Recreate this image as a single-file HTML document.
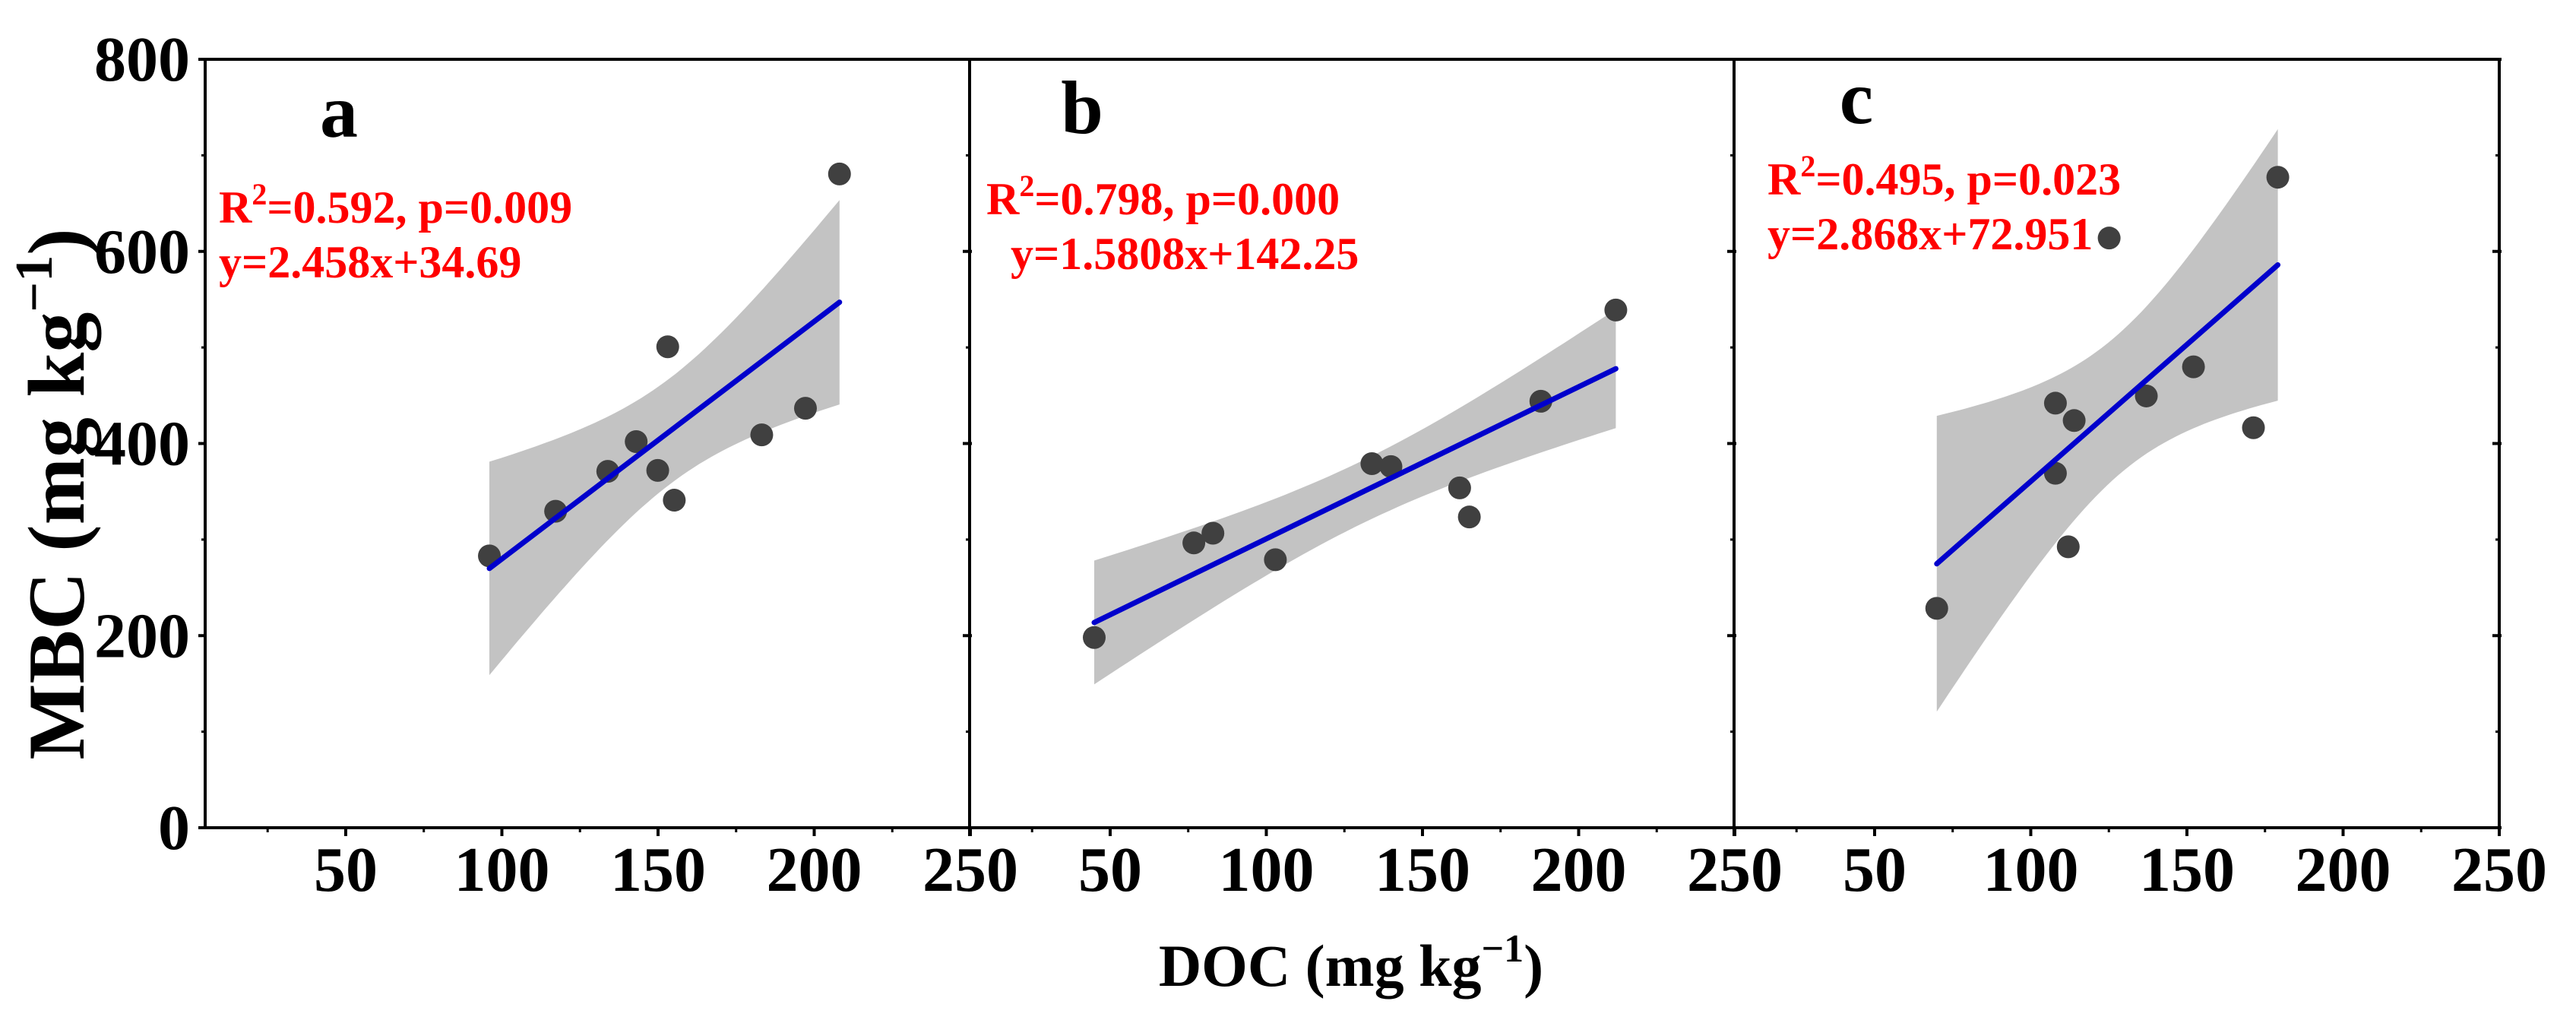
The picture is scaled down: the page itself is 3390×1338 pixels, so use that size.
<!DOCTYPE html>
<html><head><meta charset="utf-8"><style>
html,body{margin:0;padding:0;background:#fff;}
svg{display:block;font-family:"Liberation Serif",serif;font-weight:bold;}
</style></head><body>
<svg id="chart" width="3390" height="1338" viewBox="0 0 3390 1338" xmlns="http://www.w3.org/2000/svg"></svg>
<script>
const panelLetters = ["a", "b", "c"];
const docA = [96, 117.2, 133.9, 143, 149.9, 153.1, 155.2, 183.2, 197.2, 208.1];
const mbcA = [283, 329.5, 371, 402, 372, 500.7, 341, 409, 436.7, 680.6];
const docB = [44.9, 76.8, 82.9, 102.9, 133.8, 139.9, 161.9, 165, 187.9, 211.9];
const mbcB = [198, 296.5, 306.6, 279, 379, 376, 353.8, 323.5, 444, 539];
const docC = [69.9, 107.9, 107.9, 113.9, 112, 125.1, 137, 152.1, 171.3, 179.1];
const mbcC = [228.4, 442, 369, 423.9, 292.5, 613.9, 449.5, 479.8, 416.4, 677.2];
const statLines1 = ["0.592, p=0.009", "0.798, p=0.000", "0.495, p=0.023"];
const statLines2 = ["y=2.458x+34.69", "y=1.5808x+142.25", "y=2.868x+72.951"];
const xTicks = [50, 100, 150, 200, 250];
const xMinor = [25, 75, 125, 175, 225];
const yTicks = [0, 200, 400, 600, 800];
const yMinor = [100, 300, 500, 700];

const NS = "http://www.w3.org/2000/svg";
const svg = document.getElementById("chart");
function mk(tag, attrs, parent) {
  const e = document.createElementNS(NS, tag);
  for (const k in attrs) e.setAttribute(k, attrs[k]);
  (parent || svg).appendChild(e);
  return e;
}
const panelLeft = [270, 1276, 2282];
const panelW = 1007;
const plotTop = 78, plotBottom = 1089;
const xMin = 5, xMax = 250, yMin = 0, yMax = 800;
function yS(v) { return plotBottom - (v - yMin) / (yMax - yMin) * (plotBottom - plotTop); }
function xS(p, v) { return panelLeft[p] + (v - xMin) / (xMax - xMin) * panelW; }

const datasets = [[docA, mbcA], [docB, mbcB], [docC, mbcC]];
const textPos = [
  {lx: 446, ly: 180, t1x: 288, t1y: 293, t2x: 288, t2y: 365},
  {lx: 1424, ly: 175, t1x: 1298, t1y: 282, t2x: 1330, t2y: 354},
  {lx: 2443, ly: 162, t1x: 2326, t1y: 256, t2x: 2326, t2y: 328}
];

datasets.forEach(([xs, ys], p) => {
  const g = mk("g", {});
  
  
  const n = xs.length;
  const mx = xs.reduce((a, b) => a + b, 0) / n;
  const my = ys.reduce((a, b) => a + b, 0) / n;
  let sxx = 0, sxy = 0;
  for (let i = 0; i < n; i++) { sxx += (xs[i] - mx) ** 2; sxy += (xs[i] - mx) * (ys[i] - my); }
  const b = sxy / sxx, a = my - b * mx;
  let sse = 0;
  for (let i = 0; i < n; i++) sse += (ys[i] - a - b * xs[i]) ** 2;
  const s = Math.sqrt(sse / (n - 2));
  const t = 2.306;
  const x0 = Math.min(...xs), x1 = Math.max(...xs);
  const up = [], lo = [];
  for (let k = 0; k <= 60; k++) {
    const xv = x0 + (x1 - x0) * k / 60;
    const yh = a + b * xv;
    const h = t * s * Math.sqrt(1 / n + (xv - mx) ** 2 / sxx);
    up.push(xS(p, xv).toFixed(1) + "," + yS(yh + h).toFixed(1));
    lo.unshift(xS(p, xv).toFixed(1) + "," + yS(yh - h).toFixed(1));
  }
  const band = mk("polygon", {points: up.concat(lo).join(" "), fill: "#c3c3c3"}, g);
  
  
  for (let i = 0; i < n; i++) {
    const c = mk("circle", {cx: xS(p, xs[i]), cy: yS(ys[i]), r: 15, fill: "#404040"}, g);
    
    
  }
  const ln = mk("line", {x1: xS(p, x0), y1: yS(a + b * x0), x2: xS(p, x1), y2: yS(a + b * x1), stroke: "#0000cc", "stroke-width": 7, "stroke-linecap": "round"}, g);
  
  

  const tp = textPos[p];
  const lt = mk("text", {x: tp.lx, y: tp.ly, "font-size": 100, "text-anchor": "middle", fill: "#000"}, g);
  lt.textContent = panelLetters[p];
  
  
  const t1 = mk("text", {x: tp.t1x, y: tp.t1y, "font-size": 60, fill: "#ff0000"}, g);
  t1.innerHTML = 'R<tspan dy="-24" font-size="40">2</tspan><tspan dy="24">=' + statLines1[p] + '</tspan>';
  
  
  const t2 = mk("text", {x: tp.t2x, y: tp.t2y, "font-size": 60, fill: "#ff0000"}, g);
  t2.textContent = statLines2[p];
  
  

  xTicks.forEach(v => {
    const X = xS(p, v);
    const tk = mk("line", {x1: X, y1: plotBottom, x2: X, y2: plotBottom + 11, stroke: "#000", "stroke-width": 4}, g);
    
    
    const tl = mk("text", {x: X, y: 1172, "font-size": 84, "text-anchor": "middle", fill: "#000"}, g);
    tl.textContent = v;
    
    
  });
  xMinor.forEach(v => {
    const X = xS(p, v);
    const tk = mk("line", {x1: X, y1: plotBottom, x2: X, y2: plotBottom + 6, stroke: "#000", "stroke-width": 3}, g);
    
    
  });
});

const frame = mk("g", {});


mk("line", {x1: 268, y1: plotTop, x2: 3291, y2: plotTop, stroke: "#000", "stroke-width": 4}, frame);
mk("line", {x1: 268, y1: plotBottom, x2: 3291, y2: plotBottom, stroke: "#000", "stroke-width": 4}, frame);
[270, 1276, 2282, 3289].forEach((X, i) => {
  mk("line", {x1: X, y1: plotTop - 2, x2: X, y2: plotBottom + (i === 0 ? 2 : 11), stroke: "#000", "stroke-width": 4}, frame);
  yTicks.forEach(v => {
    const tk = mk("line", {x1: X - 9, y1: yS(v), x2: i === 0 ? X : X + 3, y2: yS(v), stroke: "#000", "stroke-width": 4}, frame);
    
    
  });
  yMinor.forEach(v => {
    const tk = mk("line", {x1: X - 5, y1: yS(v), x2: X, y2: yS(v), stroke: "#000", "stroke-width": 3}, frame);
    
    
  });
});
yTicks.forEach(v => {
  const tl = mk("text", {x: 250, y: yS(v) + 28, "font-size": 84, "text-anchor": "end", fill: "#000"});
  tl.textContent = v;
  
  
});

const xt = mk("text", {x: 1778, y: 1297, "font-size": 78, "text-anchor": "middle", fill: "#000"});
xt.innerHTML = 'DOC (mg kg<tspan dy="-32" font-size="52">−1</tspan><tspan dy="32">)</tspan>';


const yt = mk("text", {x: 0, y: 0, "font-size": 106, "text-anchor": "middle", fill: "#000", transform: "translate(110,650) rotate(-90)"});
yt.innerHTML = 'MBC (mg kg<tspan dy="-42" font-size="70">−1</tspan><tspan dy="42">)</tspan>';


</script>
</body></html>
